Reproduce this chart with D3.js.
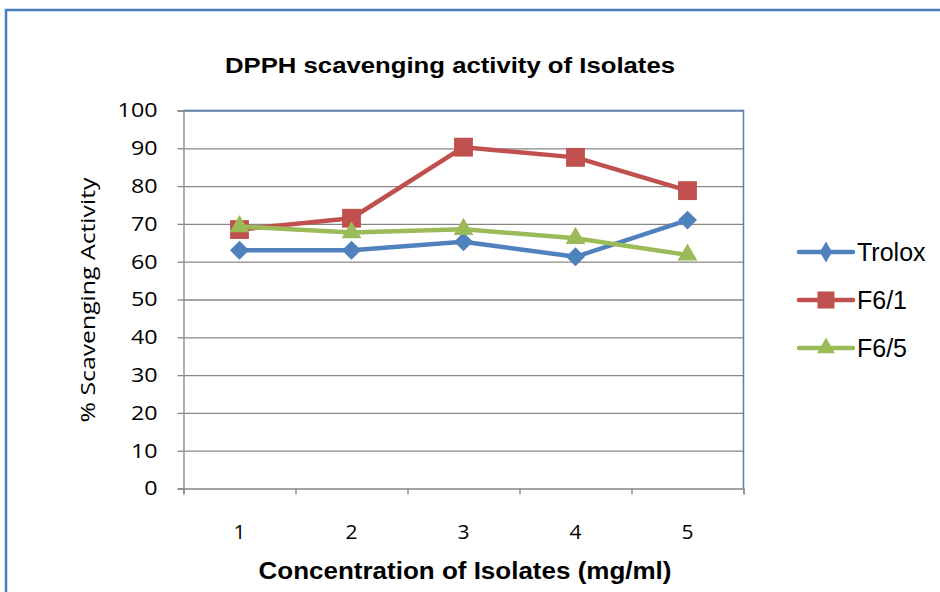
<!DOCTYPE html>
<html>
<head>
<meta charset="utf-8">
<script src="https://cdn.jsdelivr.net/npm/d3@7"></script>
<style>
  body { margin: 0; background: #fff; }
  svg { display: block; }
</style>
</head>
<body>
<svg></svg>
<script>
// chart data
const categories = ["1", "2", "3", "4", "5"];
const seriesNames = ["Trolox", "F6/1", "F6/5"];
const trolox = [63, 63, 65.3, 61.3, 71];
const f61 = [68.5, 71.5, 90.3, 87.6, 78.8];
const f65 = [69.3, 67.7, 68.6, 66.2, 61.8];
const yTicks = [0, 10, 20, 30, 40, 50, 60, 70, 80, 90, 100];

const width = 940,
    height = 592;
const plotLeft = 183.5,
    plotRight = 743.5,
    plotTop = 110.5,
    plotBottom = 488.5;

const colors = ["#4f81bd", "#c0504d", "#9bbb59"];
const gridColor = "#868686";

const svg = d3.select("svg").attr("width", width).attr("height", height);

// outer chart border (only left and top fall inside the picture)
svg.append("path")
    .attr("d", "M6,592 L6,10 L940,10")
    .attr("fill", "none")
    .attr("stroke", "#4a7ebb")
    .attr("stroke-width", 2.5);

const xScale = d3.scaleBand().domain(categories).range([plotLeft, plotRight]);
const xEdge = d3.scaleLinear().domain([0, categories.length]).range([plotLeft, plotRight]);
const yScale = d3.scaleLinear().domain([0, 100]).range([plotBottom, plotTop]);

// horizontal gridlines
svg.append("g")
    .attr("transform", "translate(" + plotLeft + ",0)")
    .call(d3.axisLeft(yScale).tickValues(yTicks.slice(1)).tickSize(-(plotRight - plotLeft)).tickFormat(""))
    .call((g) => g.select(".domain").remove())
    .call((g) => g.selectAll("line").attr("stroke", gridColor).attr("stroke-width", 1.3));

// plot area border, top and right
svg.append("path")
    .attr("d", "M" + plotLeft + "," + plotTop + " L" + plotRight + "," + plotTop + " L" + plotRight + "," + plotBottom)
    .attr("fill", "none")
    .attr("stroke", "#4f81bd")
    .attr("stroke-width", 1.5);

// y axis
const yAxis = svg.append("g")
    .attr("transform", "translate(" + plotLeft + ",0)")
    .call(d3.axisLeft(yScale).tickValues(yTicks).tickSize(6).tickPadding(20));
yAxis.select(".domain").attr("stroke", gridColor).attr("stroke-width", 1.3);
yAxis.selectAll("line").attr("stroke", gridColor).attr("stroke-width", 1.3);
yAxis.selectAll("text")
    .attr("x", -26)
    .attr("font-family", "'Open Sans', sans-serif")
    .attr("font-size", 20)
    .attr("fill", "#000")
    .attr("textLength", (d) => String(d).length * 13.3)
    .attr("lengthAdjust", "spacingAndGlyphs");

// x axis: ticks on the category edges
const xTicks = svg.append("g")
    .attr("transform", "translate(0," + plotBottom + ")")
    .call(d3.axisBottom(xEdge).tickValues(d3.range(categories.length + 1)).tickSize(6).tickFormat(""));
xTicks.select(".domain").attr("stroke", gridColor).attr("stroke-width", 1.3);
xTicks.selectAll("line").attr("stroke", gridColor).attr("stroke-width", 1.3);

// x axis labels
const xLabels = svg.append("g")
    .attr("transform", "translate(0," + plotBottom + ")")
    .call(d3.axisBottom(xScale).tickSize(0).tickPadding(36));
xLabels.select(".domain").remove();
xLabels.selectAll("text")
    .attr("font-family", "'Open Sans', sans-serif")
    .attr("font-size", 20)
    .attr("fill", "#000")
    .attr("textLength", 12)
    .attr("lengthAdjust", "spacingAndGlyphs");

// series lines and markers
const allSeries = [trolox, f61, f65];
const shapes = [
    d3.symbol().type(d3.symbolSquare).size(180),
    d3.symbol().type(d3.symbolSquare).size(355),
    d3.symbol().type(d3.symbolTriangle).size(170)
];
const rotations = [45, 0, 0];

const line = d3.line()
    .x((d, i) => xScale(categories[i]) + xScale.bandwidth() / 2)
    .y((d) => yScale(d));

allSeries.forEach((values, s) => {
    svg.append("path")
        .datum(values)
        .attr("fill", "none")
        .attr("stroke", colors[s])
        .attr("stroke-width", 4.5)
        .attr("stroke-linejoin", "round")
        .attr("d", line);

    svg.append("g")
        .selectAll("path")
        .data(values)
        .enter()
        .append("path")
        .attr("d", shapes[s])
        .attr("fill", colors[s])
        .attr("transform", (d, i) =>
            "translate(" + (xScale(categories[i]) + xScale.bandwidth() / 2) + "," + yScale(d) + ") rotate(" + rotations[s] + ")");
});

// legend
const legendShapes = [
    d3.symbol().type(d3.symbolDiamond).size(130),
    d3.symbol().type(d3.symbolSquare).size(290),
    d3.symbol().type(d3.symbolTriangle).size(140)
];
const legend = svg.append("g")
    .selectAll("g")
    .data(seriesNames)
    .enter()
    .append("g")
    .attr("transform", (d, i) => "translate(799," + (252 + i * 48) + ")");

legend.append("line")
    .attr("x1", 0)
    .attr("x2", 54)
    .attr("stroke", (d, i) => colors[i])
    .attr("stroke-width", 4.5)
    .attr("stroke-linecap", "round");

legend.append("path")
    .attr("d", (d, i) => legendShapes[i]())
    .attr("transform", "translate(27,0)")
    .attr("fill", (d, i) => colors[i]);

legend.append("text")
    .attr("x", 58)
    .attr("y", 9)
    .attr("font-family", "'Liberation Sans', Arial, sans-serif")
    .attr("font-size", 25)
    .attr("fill", "#000")
    .text((d) => d);

// title
svg.append("text")
    .attr("x", 450)
    .attr("y", 73)
    .attr("text-anchor", "middle")
    .attr("font-family", "'Liberation Sans', Arial, sans-serif")
    .attr("font-weight", "bold")
    .attr("font-size", 22)
    .attr("textLength", 450)
    .attr("lengthAdjust", "spacingAndGlyphs")
    .text("DPPH scavenging activity of Isolates");

// x axis title
svg.append("text")
    .attr("x", 465)
    .attr("y", 579)
    .attr("text-anchor", "middle")
    .attr("font-family", "'Liberation Sans', Arial, sans-serif")
    .attr("font-weight", "bold")
    .attr("font-size", 23)
    .attr("textLength", 413)
    .attr("lengthAdjust", "spacingAndGlyphs")
    .text("Concentration of Isolates (mg/ml)");

// y axis title
svg.append("text")
    .attr("transform", "translate(95,300) rotate(-90)")
    .attr("text-anchor", "middle")
    .attr("font-family", "'Open Sans', sans-serif")
    .attr("font-size", 20)
    .attr("textLength", 245)
    .attr("lengthAdjust", "spacingAndGlyphs")
    .text("% Scavenging Activity");
</script>
</body>
</html>
